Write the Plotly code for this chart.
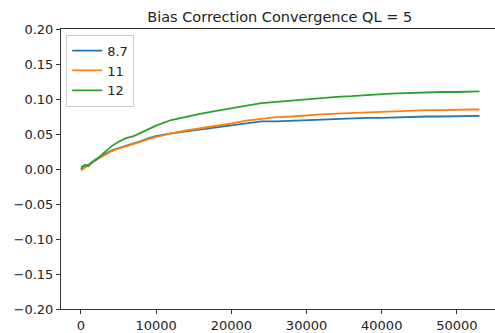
import plotly.graph_objects as go

steps = [0, 500, 1000, 1500, 2000, 3000, 4000, 5000, 6000, 7000, 8000, 9000, 10000,
         12000, 14000, 16000, 18000, 20000, 22000, 24000, 26000, 28000, 30000, 32000,
         34000, 36000, 38000, 40000, 42000, 44000, 46000, 48000, 50000, 52000, 53000]

bias_87 = [0.003, 0.005, 0.006, 0.010, 0.014, 0.020, 0.026, 0.030, 0.033, 0.036, 0.040, 0.044, 0.047,
           0.051, 0.054, 0.056, 0.059, 0.062, 0.066, 0.068, 0.068, 0.069, 0.070, 0.071,
           0.071, 0.072, 0.073, 0.073, 0.074, 0.074, 0.075, 0.075, 0.075, 0.076, 0.076]

bias_11 = [-0.002, 0.002, 0.005, 0.009, 0.013, 0.019, 0.025, 0.029, 0.032, 0.035, 0.039, 0.043, 0.046,
           0.051, 0.055, 0.058, 0.061, 0.065, 0.069, 0.072, 0.074, 0.075, 0.077, 0.078,
           0.079, 0.080, 0.081, 0.082, 0.083, 0.083, 0.084, 0.084, 0.085, 0.085, 0.085]

bias_12 = [0.000, 0.006, 0.004, 0.010, 0.013, 0.022, 0.032, 0.039, 0.044, 0.047, 0.052, 0.057, 0.062,
           0.070, 0.075, 0.079, 0.083, 0.087, 0.091, 0.094, 0.096, 0.098, 0.100, 0.102,
           0.103, 0.104, 0.106, 0.107, 0.108, 0.109, 0.110, 0.110, 0.110, 0.111, 0.111]

series_names = ["8.7", "11", "12"]
colors = ["#1f77b4", "#ff7f0e", "#2ca02c"]

x_ticks = [0, 10000, 20000, 30000, 40000, 50000]
y_ticks = [-0.20, -0.15, -0.10, -0.05, 0.00, 0.05, 0.10, 0.15, 0.20]

fig = go.Figure()
for name, ys, c in zip(series_names, [bias_87, bias_11, bias_12], colors):
    fig.add_trace(go.Scatter(x=steps, y=ys, mode="lines", name=name,
                             line=dict(color=c, width=1.8)))

font = "DejaVu Sans, sans-serif"
fig.update_layout(
    width=495, height=333,
    margin=dict(l=61, r=0, t=29, b=21),
    paper_bgcolor="white", plot_bgcolor="white",
    font=dict(family=font, size=13, color="#222"),
    title=dict(text="Bias Correction Convergence QL = 5", x=0.565, xanchor="center",
               y=0.95, yanchor="middle", font=dict(size=14.5, color="#222")),
    showlegend=True,
    legend=dict(x=0.012, y=0.98, xanchor="left", yanchor="top",
                bgcolor="white", bordercolor="#cccccc", borderwidth=1,
                font=dict(size=13), tracegroupgap=0),
    xaxis=dict(range=[-2650, 55063], tickvals=x_ticks,
               ticktext=[str(v) for v in x_ticks],
               showgrid=False, zeroline=False, showline=True, linecolor="#333",
               linewidth=1, mirror=True, ticks="outside", ticklen=4, tickcolor="#333"),
    yaxis=dict(range=[-0.20, 0.20], tickvals=y_ticks,
               ticktext=[("\u2212" if v < 0 else "") + f"{abs(v):.2f}" for v in y_ticks],
               showgrid=False, zeroline=False, showline=True, linecolor="#333",
               linewidth=1, ticks="outside", ticklen=4, tickcolor="#333"),
)

fig.write_html("out.html")
